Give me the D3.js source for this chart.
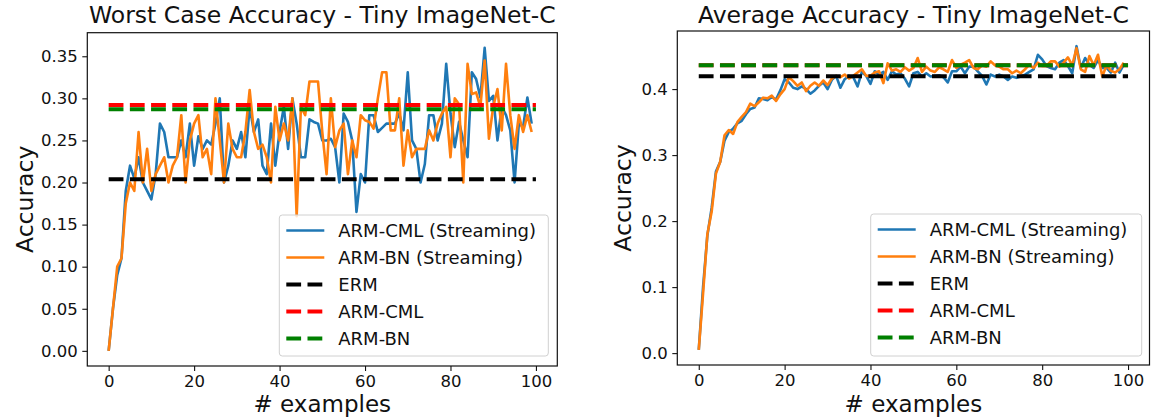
<!DOCTYPE html>
<html><head><meta charset="utf-8">
<script src="https://cdn.jsdelivr.net/npm/d3@7"></script>
<style>
html,body{margin:0;padding:0;background:#fff;}
svg{display:block;font-family:"DejaVu Sans",sans-serif;}
</style></head>
<body>
<svg id="chart" width="1151" height="419"></svg>
<script>
// ---------- data ----------
const examples = d3.range(0, 100);
const baselineX = [0, 100];

// Worst case accuracy (left panel)
const worstCML = [0.0,0.05,0.09,0.11,0.19,0.22,0.205,0.23,0.20,0.19,
0.18,0.21,0.27,0.26,0.23,0.23,0.23,0.25,0.23,0.27,
0.22,0.255,0.24,0.25,0.245,0.27,0.30,0.20,0.22,0.25,
0.24,0.26,0.23,0.29,0.26,0.275,0.22,0.21,0.27,0.22,
0.26,0.29,0.24,0.30,0.27,0.23,0.23,0.275,0.272,0.27,
0.25,0.25,0.252,0.242,0.20,0.282,0.272,0.25,0.165,0.21,
0.20,0.28,0.28,0.26,0.265,0.27,0.27,0.27,0.282,0.262,
0.331,0.25,0.24,0.20,0.222,0.28,0.28,0.25,0.27,0.341,
0.282,0.242,0.272,0.25,0.23,0.331,0.323,0.301,0.36,0.297,
0.303,0.25,0.29,0.28,0.262,0.20,0.27,0.266,0.301,0.27];
const worstBN = [0.0,0.05,0.10,0.11,0.175,0.20,0.19,0.26,0.20,0.24,
0.19,0.21,0.22,0.23,0.20,0.22,0.23,0.28,0.20,0.25,
0.27,0.28,0.23,0.24,0.21,0.30,0.25,0.20,0.27,0.24,
0.23,0.23,0.26,0.31,0.26,0.24,0.245,0.23,0.20,0.29,
0.25,0.27,0.25,0.30,0.16,0.29,0.28,0.32,0.32,0.32,
0.26,0.21,0.30,0.242,0.262,0.27,0.21,0.25,0.23,0.28,
0.274,0.272,0.264,0.30,0.331,0.331,0.262,0.262,0.30,0.22,
0.262,0.23,0.24,0.24,0.24,0.262,0.25,0.27,0.282,0.29,
0.23,0.30,0.293,0.20,0.341,0.305,0.307,0.29,0.345,0.252,
0.29,0.311,0.262,0.341,0.28,0.24,0.28,0.26,0.28,0.26];
const worstERM = [0.204, 0.204];
const worstARMCML = [0.292, 0.292];
const worstARMBN = [0.287, 0.287];

// Average accuracy (right panel)
const avgCML = [0.005,0.10,0.178,0.22,0.275,0.29,0.322,0.335,0.34,0.348,
0.352,0.362,0.37,0.372,0.386,0.385,0.383,0.388,0.384,0.398,
0.415,0.41,0.402,0.40,0.404,0.40,0.393,0.398,0.405,0.41,
0.40,0.414,0.42,0.402,0.415,0.42,0.418,0.404,0.426,0.42,
0.408,0.427,0.422,0.426,0.414,0.427,0.422,0.424,0.416,0.404,
0.424,0.426,0.419,0.424,0.419,0.42,0.421,0.418,0.41,0.427,
0.427,0.434,0.424,0.434,0.434,0.427,0.42,0.407,0.422,0.419,
0.422,0.419,0.414,0.419,0.417,0.419,0.422,0.426,0.43,0.452,
0.445,0.435,0.432,0.43,0.44,0.444,0.435,0.424,0.465,0.432,
0.447,0.437,0.432,0.444,0.432,0.432,0.425,0.44,0.425,0.437];
const avgBN = [0.005,0.09,0.18,0.214,0.272,0.29,0.33,0.338,0.332,0.35,
0.358,0.365,0.378,0.374,0.38,0.387,0.386,0.39,0.382,0.392,
0.40,0.418,0.412,0.405,0.41,0.397,0.405,0.41,0.405,0.413,
0.406,0.416,0.42,0.418,0.422,0.416,0.42,0.425,0.43,0.42,
0.42,0.425,0.427,0.409,0.439,0.428,0.43,0.426,0.433,0.428,
0.432,0.447,0.426,0.434,0.428,0.426,0.433,0.43,0.426,0.444,
0.432,0.437,0.44,0.444,0.432,0.43,0.436,0.434,0.442,0.436,
0.434,0.43,0.43,0.424,0.428,0.424,0.43,0.437,0.432,0.44,
0.435,0.435,0.442,0.442,0.434,0.44,0.448,0.436,0.462,0.43,
0.426,0.45,0.436,0.452,0.419,0.436,0.428,0.425,0.43,0.44];
const avgERM = [0.4195, 0.4195];
const avgARMCML = [0.436, 0.436];
const avgARMBN = [0.436, 0.436];

const xTicks = [0, 20, 40, 60, 80, 100];
const worstYTicks = [0.00, 0.05, 0.10, 0.15, 0.20, 0.25, 0.30, 0.35];
const avgYTicks = [0.0, 0.1, 0.2, 0.3, 0.4];

const legendLabels = ["ARM-CML (Streaming)", "ARM-BN (Streaming)", "ERM", "ARM-CML", "ARM-BN"];
const colors = ["#1f77b4", "#ff7f0e", "#000000", "#ff0000", "#008000"];

// ---------- drawing ----------
const svg = d3.select("#chart");
svg.append("rect").attr("width",1151).attr("height",419).attr("fill","#fff");

function pad(ext){ const r = ext[1]-ext[0]; return [ext[0]-0.05*r, ext[1]+0.05*r]; }

function panel(cfg){
  const g = svg.append("g");
  const xDom = pad([d3.min(examples.concat(baselineX)), d3.max(examples.concat(baselineX))]);
  const allY = cfg.cml.concat(cfg.bn, cfg.erm, cfg.armcml, cfg.armbn);
  const yDom = pad(d3.extent(allY));
  const x = d3.scaleLinear().domain(xDom).range([cfg.left, cfg.right]);
  const y = d3.scaleLinear().domain(yDom).range([cfg.bottom, cfg.top]);

  const line = d3.line().x(d => x(d[0])).y(d => y(d[1]));
  const series = [
    {xs: examples, ys: cfg.cml, c: colors[0], w: 2.6, dash: null},
    {xs: examples, ys: cfg.bn, c: colors[1], w: 2.6, dash: null},
    {xs: baselineX, ys: cfg.erm, c: colors[2], w: 4, dash: "14.8,6.4"},
    {xs: baselineX, ys: cfg.armcml, c: colors[3], w: 4, dash: "14.8,6.4"},
    {xs: baselineX, ys: cfg.armbn, c: colors[4], w: 4, dash: "14.8,6.4"}
  ];
  series.forEach(s => {
    g.append("path")
      .datum(s.xs.map((v,i)=>[v, s.ys[i]]))
      .attr("d", line)
      .attr("fill","none")
      .attr("stroke", s.c)
      .attr("stroke-width", s.w)
      .attr("stroke-linejoin","round")
      .attr("stroke-dasharray", s.dash);
  });

  // axes
  const xa = g.append("g").attr("transform",`translate(0,${cfg.bottom})`)
    .call(d3.axisBottom(x).tickValues(xTicks).tickFormat(d3.format("d")).tickSize(5).tickPadding(4.5));
  const ya = g.append("g").attr("transform",`translate(${cfg.left},0)`)
    .call(d3.axisLeft(y).tickValues(cfg.yTicks).tickFormat(d3.format(cfg.yFmt)).tickSize(5).tickPadding(4.5));
  [xa, ya].forEach(a => {
    a.select(".domain").remove();
    a.selectAll("text").attr("font-size","16.5px").attr("fill","#111").attr("font-family","DejaVu Sans");
    a.selectAll("line").attr("stroke","#111").attr("stroke-width",1.1);
  });
  // frame
  g.append("rect").attr("x",cfg.left).attr("y",cfg.top)
    .attr("width",cfg.right-cfg.left).attr("height",cfg.bottom-cfg.top)
    .attr("fill","none").attr("stroke","#111").attr("stroke-width",1.2);

  // titles
  g.append("text").attr("x",(cfg.left+cfg.right)/2).attr("y",23)
    .attr("text-anchor","middle").attr("font-size","23.5px").attr("fill","#111").text(cfg.title);
  g.append("text").attr("x",(cfg.left+cfg.right)/2).attr("y",412)
    .attr("text-anchor","middle").attr("font-size","23px").attr("fill","#111").text("# examples");
  g.append("text").attr("transform",`translate(${cfg.ylabX},${(cfg.top+cfg.bottom)/2}) rotate(-90)`)
    .attr("text-anchor","middle").attr("font-size","23.5px").attr("fill","#111").text("Accuracy");

  // legend
  const L = cfg.legend;
  const lg = g.append("g");
  lg.append("rect").attr("x",L.x).attr("y",L.y).attr("width",L.w).attr("height",L.h)
    .attr("rx",3).attr("fill","#fff").attr("fill-opacity",0.8)
    .attr("stroke","#d0d0d0").attr("stroke-width",1);
  legendLabels.forEach((lab,i) => {
    const yy = L.y + 15.5 + i*27;
    const s = series[i];
    lg.append("line").attr("x1",L.x+7).attr("x2",L.x+45).attr("y1",yy).attr("y2",yy)
      .attr("stroke",s.c).attr("stroke-width",s.w===4?4:2.6).attr("stroke-dasharray",s.dash);
    lg.append("text").attr("x",L.x+59).attr("y",yy+6.5).attr("font-size","18px").attr("fill","#111").text(lab);
  });
}

panel({title:"Worst Case Accuracy - Tiny ImageNet-C", left:87.3, right:557.3, top:32.7, bottom:366,
  cml:worstCML, bn:worstBN, erm:worstERM, armcml:worstARMCML, armbn:worstARMBN,
  yTicks:worstYTicks, yFmt:".2f", ylabX:33, legend:{x:279.3,y:215,w:269,h:141}});
panel({title:"Average Accuracy - Tiny ImageNet-C", left:677.3, right:1149.5, top:31, bottom:365,
  cml:avgCML, bn:avgBN, erm:avgERM, armcml:avgARMCML, armbn:avgARMBN,
  yTicks:avgYTicks, yFmt:".1f", ylabX:631, legend:{x:870.7,y:214,w:271,h:142}});
</script>
</body></html>
